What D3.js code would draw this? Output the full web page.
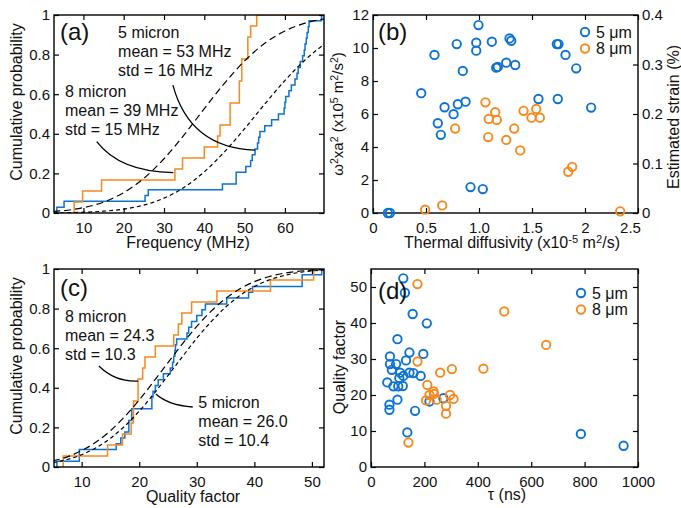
<!DOCTYPE html>
<html>
<head>
<meta charset="utf-8">
<script src="https://cdn.jsdelivr.net/npm/d3@7/dist/d3.min.js"></script>
<style>
  body { margin: 0; background: #fff; }
  svg { display: block; }
</style>
</head>
<body>
<svg id="fig" width="681" height="508"></svg>
<script>
// ---- data ----

// (a) resonance frequency samples (MHz), one step per device
const freq5 = [3.4, 5.2, 25.3, 26.1, 44.5, 47.9, 47.9, 50.3, 51.5, 51.9, 52.6, 53.2, 53.5, 53.8, 55.0, 56.7, 58.4,
  59.8, 60.0, 60.2, 61.0, 61.6, 62.5, 63.0, 63.3, 63.8, 64.4, 64.8, 65.0, 65.3, 65.5, 65.8, 66.0, 69.1];
const freq8 = [7.7, 9.8, 14.5, 32.7, 34.6, 40.0, 43.3, 43.9, 46.4, 46.4, 48.7, 48.7, 49.3, 49.3, 50.8, 50.8, 51.5, 53.0];
// gaussian fits drawn dashed
const fitFreqX = [2.5, 5, 10, 15, 20, 25, 30, 35, 40, 45, 50, 55, 60, 65, 70];
const fitFreq8 = [0.008, 0.012, 0.027, 0.055, 0.103, 0.175, 0.274, 0.395, 0.527, 0.655, 0.768, 0.857, 0.919, 0.959, 0.981];
const fitFreq5 = [0.001, 0.001, 0.004, 0.009, 0.020, 0.040, 0.075, 0.130, 0.208, 0.309, 0.426, 0.550, 0.669, 0.773, 0.856];

// (c) quality factor samples
const q5 = [5.7, 9.6, 9.6, 16.0, 16.8, 17.5, 18.2, 18.2, 18.7, 18.7, 22.2, 22.2, 22.4, 22.8, 23.3, 24.2, 25.4,
  25.8, 26.0, 26.2, 26.3, 26.5, 28.3, 28.6, 29.1, 30.0, 30.9, 31.5, 35.2, 39.0, 39.7, 48.3, 48.3, 51.7];
const q8 = [6.8, 14.5, 17.1, 18.6, 19.0, 19.0, 19.8, 19.8, 20.6, 21.0, 22.8, 26.0, 26.8, 27.4, 29.1, 33.5, 42.8, 50.3];
const fitQX = [5, 7.5, 10, 12.5, 15, 17.5, 20, 22.5, 25, 27.5, 30, 32.5, 35, 37.5, 40, 42.5, 45, 47.5, 50, 52.5];
const fitQ8 = [0.031, 0.051, 0.083, 0.126, 0.183, 0.255, 0.338, 0.431, 0.527, 0.622, 0.710, 0.787, 0.851, 0.900, 0.936, 0.961, 0.978, 0.988, 0.994, 0.997];
const fitQ5 = [0.022, 0.038, 0.062, 0.097, 0.145, 0.207, 0.282, 0.368, 0.462, 0.557, 0.650, 0.734, 0.807, 0.866, 0.911, 0.944, 0.966, 0.981, 0.990, 0.995];

// (b) thermal diffusivity (x1e-5 m2/s) vs w^2 a^2 (x1e5 m2/s2)
const diff5 = [0.14, 0.16, 0.455, 0.58, 0.79, 0.847, 0.611, 0.64, 0.675, 0.76, 0.80, 0.873, 0.92, 1.036, 0.974, 0.974,
  0.995, 1.121, 1.162, 1.177, 1.257, 1.288, 1.304, 1.342, 1.561, 1.734, 1.75, 1.743, 1.816, 1.917, 2.058];
const w5 = [0, 0, 7.26, 9.58, 10.24, 8.61, 5.44, 4.74, 6.41, 5.99, 6.59, 6.75, 1.57, 1.45, 10.32, 9.84,
  11.39, 10.38, 8.81, 8.85, 9.11, 10.58, 10.44, 8.97, 6.91, 10.24, 10.24, 6.91, 9.58, 8.77, 6.39];
const diff8 = [0.492, 0.653, 0.775, 1.061, 1.092, 1.153, 1.168, 1.087, 1.257, 1.332, 1.389, 1.42, 1.495, 1.54, 1.574, 1.842, 1.879, 2.332];
const w8 = [0.2, 0.46, 5.12, 6.71, 5.70, 6.11, 5.64, 4.60, 4.43, 5.12, 3.79, 6.19, 5.78, 6.31, 5.78, 2.50, 2.80, 0.1];

// (d) tau (ns) vs quality factor
const tau5 = [121, 127, 156, 209, 99, 71, 71, 144, 196, 94, 131, 78, 61, 109, 121, 144, 159, 186, 84, 102,
  119, 106, 69, 69, 99, 165, 136, 219, 271, 786, 946];
const qf5 = [52.4, 48.4, 42.5, 39.9, 35.5, 30.7, 28.6, 31.8, 31.4, 28.6, 29.6, 27.0, 23.5, 26.2, 25.3, 26.2, 26.1, 25.3, 22.4, 22.4,
  22.5, 24.7, 17.3, 15.9, 18.7, 15.6, 9.6, 18.2, 19.1, 9.2, 5.9];
const tau8 = [174, 174, 259, 303, 421, 211, 219, 206, 234, 236, 246, 296, 309, 281, 281, 140, 499, 656];
const qf8 = [50.8, 29.3, 26.2, 27.2, 27.3, 22.8, 20.0, 18.5, 21.0, 20.3, 18.7, 20.0, 18.9, 17.0, 14.8, 6.8, 43.2, 33.9];

// tick values and labels
const probTicks = [0, 0.2, 0.4, 0.6, 0.8, 1];
const probLabels = ["0", "0.2", "0.4", "0.6", "0.8", "1"];
const freqTicks = [10, 20, 30, 40, 50, 60];
const diffTicks = [0, 0.5, 1, 1.5, 2, 2.5];
const diffLabels = ["0", "0.5", "1.0", "1.5", "2", "2.5"];
const wTicks = [0, 2, 4, 6, 8, 10, 12];
const strainTicks = [0, 0.1, 0.2, 0.3, 0.4];
const strainLabels = ["0", "0.1", "0.2", "0.3", "0.4"];
const qTicks = [10, 20, 30, 40, 50];
const tauTicks = [0, 200, 400, 600, 800, 1000];
const qfTicks = [0, 10, 20, 30, 40, 50];

// ---- drawing ----
const svg = d3.select("#fig");
const FONT = '"Liberation Sans", Arial, Helvetica, sans-serif';
const BLUE = "#0d72d2";
const ORANGE = "#f6891f";
const TICK = 5;

svg.attr("font-family", FONT);

// scales for the four panels
const xA = d3.scaleLinear().domain([2.7, 69.7]).range([54, 324]);
const yA = d3.scaleLinear().domain([0, 1]).range([213, 15]);
const xB = d3.scaleLinear().domain([0, 2.5]).range([373, 638]);
const yB = d3.scaleLinear().domain([0, 12]).range([213, 15]);
const yB2 = d3.scaleLinear().domain([0, 0.4]).range([213, 15]);
const xC = d3.scaleLinear().domain([5.2, 52.1]).range([54, 324]);
const yC = d3.scaleLinear().domain([0, 1]).range([467, 269]);
const xD = d3.scaleLinear().domain([0, 1000]).range([371, 638]);
const yD = d3.scaleLinear().domain([0, 55]).range([467, 269]);

function styleAxis(g) {
  g.select(".domain").remove();
  g.selectAll("line").attr("stroke", "#000").attr("stroke-width", 1.2);
  g.selectAll("text").attr("font-size", 15).attr("font-family", FONT).attr("fill", "#111");
}

// box with inward ticks on all four sides
function frame(x, y, xt, xl, yt, yl, yRight, rt, rl) {
  const [l, r] = x.range(), [b, t] = y.range();
  const bottom = svg.append("g").attr("transform", `translate(0,${b})`)
    .call(d3.axisBottom(x).tickValues(xt).tickFormat((d, i) => xl[i]).tickSize(-TICK).tickPadding(9))
    .call(styleAxis);
  svg.append("g").attr("transform", `translate(0,${t})`)
    .call(d3.axisTop(x).tickValues(xt).tickFormat("").tickSize(-TICK))
    .call(styleAxis);
  svg.append("g").attr("transform", `translate(${l},0)`)
    .call(d3.axisLeft(y).tickValues(yt).tickFormat((d, i) => yl[i]).tickSize(-TICK).tickPadding(4))
    .call(styleAxis);
  if (yRight) {
    svg.append("g").attr("transform", `translate(${r},0)`)
      .call(d3.axisRight(yRight).tickValues(rt).tickFormat((d, i) => rl[i]).tickSize(-TICK).tickPadding(4))
      .call(styleAxis);
  } else {
    svg.append("g").attr("transform", `translate(${r},0)`)
      .call(d3.axisRight(y).tickValues(yt).tickFormat("").tickSize(-TICK))
      .call(styleAxis);
  }
  svg.append("rect").attr("x", l).attr("y", t).attr("width", r - l).attr("height", b - t)
    .attr("fill", "none").attr("stroke", "#000").attr("stroke-width", 1.4);
  return bottom;
}

function clipFor(id, x, y) {
  const [l, r] = x.range(), [b, t] = y.range();
  svg.append("clipPath").attr("id", id).append("rect")
    .attr("x", l).attr("y", t).attr("width", r - l).attr("height", b - t);
  return svg.append("g").attr("clip-path", `url(#${id})`);
}

// empirical cdf as a step line
function drawCdf(g, vals, x, y, color) {
  const s = vals.slice().sort(d3.ascending);
  const n = s.length;
  const pts = [[s[0], 0]];
  s.forEach((v, i) => pts.push([v, (i + 1) / n]));
  pts.push([x.domain()[1], 1]);
  g.append("path").datum(pts)
    .attr("d", d3.line().x(d => x(d[0])).y(d => y(d[1])).curve(d3.curveStepAfter))
    .attr("fill", "none").attr("stroke", color).attr("stroke-width", 1.5);
}

function drawFit(g, xs, ps, x, y, dash) {
  g.append("path").datum(xs.map((v, i) => [v, ps[i]]))
    .attr("d", d3.line().x(d => x(d[0])).y(d => y(d[1])).curve(d3.curveMonotoneX))
    .attr("fill", "none").attr("stroke", "#000").attr("stroke-width", 1.2).attr("stroke-dasharray", dash);
}

// curved pointer from label to the data, in data coordinates
function callout(x, y, p0, c, p1) {
  const p = d3.path();
  p.moveTo(x(p0[0]), y(p0[1]));
  p.quadraticCurveTo(x(c[0]), y(c[1]), x(p1[0]), y(p1[1]));
  svg.append("path").attr("d", p.toString())
    .attr("fill", "none").attr("stroke", "#000").attr("stroke-width", 1.3);
}

function textBlock(x, y, pos, lines) {
  const t = svg.append("text").attr("x", x(pos[0])).attr("y", y(pos[1]))
    .attr("font-size", 16).attr("fill", "#111");
  lines.forEach((s, i) => t.append("tspan").attr("x", x(pos[0])).attr("dy", i ? 19 : 0).text(s));
}

function circles(xs, ys, x, y, color) {
  svg.append("g").selectAll("circle").data(xs.map((v, i) => [v, ys[i]])).join("circle")
    .attr("cx", d => x(d[0])).attr("cy", d => y(d[1])).attr("r", 4.2)
    .attr("fill", "none").attr("stroke", color).attr("stroke-width", 1.9);
}

// text with superscripts: parts = [[text, isSup], ...]
function richText(g, parts, size) {
  let up = false;
  parts.forEach(([s, sup]) => {
    const ts = g.append("tspan").text(s);
    if (sup && !up) { ts.attr("dy", -5).attr("font-size", size * 0.7); up = true; }
    else if (sup) { ts.attr("font-size", size * 0.7); }
    else if (up) { ts.attr("dy", 5); up = false; }
  });
}

function label(x, y, rot, parts, size = 16) {
  const t = svg.append("text")
    .attr("transform", `translate(${x},${y})` + (rot ? " rotate(-90)" : ""))
    .attr("text-anchor", "middle").attr("font-size", size).attr("fill", "#111");
  if (typeof parts === "string") t.text(parts); else richText(t, parts, size);
}

function panelTag(x, y, s) {
  svg.append("text").attr("x", x).attr("y", y).attr("font-size", 24).attr("fill", "#111").text(s);
}

function legend(cx, cy, items) {
  items.forEach(([txt, color], i) => {
    svg.append("circle").attr("cx", cx).attr("cy", cy + i * 16.5).attr("r", 4.2)
      .attr("fill", "none").attr("stroke", color).attr("stroke-width", 1.9);
    svg.append("text").attr("x", cx + 11).attr("y", cy + i * 16.5 + 5.5)
      .attr("font-size", 16).attr("fill", "#111").text(txt);
  });
}

// ---- (a) frequency CDF ----
const gA = clipFor("clipA", xA, yA);
drawCdf(gA, freq5, xA, yA, BLUE);
drawCdf(gA, freq8, xA, yA, ORANGE);
drawFit(gA, fitFreqX, fitFreq8, xA, yA, "7,4");
drawFit(gA, fitFreqX, fitFreq5, xA, yA, "4,3");
frame(xA, yA, freqTicks, freqTicks.map(String), probTicks, probLabels);
textBlock(xA, yA, [18.6, 0.885], ["5 micron", "mean = 53 MHz", "std = 16 MHz"]);
textBlock(xA, yA, [5.43, 0.584], ["8 micron", "mean = 39 MHz", "std = 15 MHz"]);
callout(xA, yA, [32.2, 0.646], [36.45, 0.328], [52.6, 0.318]);
callout(xA, yA, [13.3, 0.36], [19.1, 0.207], [32.3, 0.204]);
panelTag(60, 40, "(a)");
label(188, 248, false, "Frequency (MHz)");
label(22, 102, true, "Cumulative probability");

// ---- (b) scatter vs thermal diffusivity ----
const axB = frame(xB, yB, diffTicks, diffLabels, wTicks, wTicks.map(String), yB2, strainTicks, strainLabels);
// last x label sits inside the box in the original, clear of the right axis "0"
axB.selectAll(".tick text").filter((d, i, n) => i === n.length - 1).attr("dx", -8);
circles(diff5, w5, xB, yB, BLUE);
circles(diff8, w8, xB, yB, ORANGE);
legend(585, 32, [["5 \u03bcm", BLUE], ["8 \u03bcm", ORANGE]]);
panelTag(378, 40, "(b)");
label(512, 248, false, [["Thermal diffusivity (x10", false], ["-5", true], [" m", false], ["2", true], ["/s)", false]]);
label(343, 114, true, [["\u03c9", false], ["2", true], ["xa", false], ["2", true], [" (x10", false], ["5", true],
  [" m", false], ["2", true], ["/s", false], ["2", true], [")", false]], 15);
label(679, 117, true, "Estimated strain (%)");

// ---- (c) quality factor CDF ----
const gC = clipFor("clipC", xC, yC);
drawCdf(gC, q5, xC, yC, BLUE);
drawCdf(gC, q8, xC, yC, ORANGE);
drawFit(gC, fitQX, fitQ8, xC, yC, "7,4");
drawFit(gC, fitQX, fitQ5, xC, yC, "4,3");
frame(xC, yC, qTicks, qTicks.map(String), probTicks, probLabels);
textBlock(xC, yC, [7.11, 0.731], ["8 micron", "mean = 24.3", "std = 10.3"]);
textBlock(xC, yC, [30.27, 0.2995], ["5 micron", "mean = 26.0", "std = 10.4"]);
callout(xC, yC, [13.0, 0.51], [15.8, 0.429], [19.8, 0.434]);
callout(xC, yC, [22.9, 0.369], [25.0, 0.313], [29.3, 0.303]);
panelTag(60, 296, "(c)");
label(193, 502, false, "Quality factor");
label(22, 356, true, "Cumulative probability");

// ---- (d) quality factor vs tau ----
frame(xD, yD, tauTicks, tauTicks.map(String), qfTicks, qfTicks.map(String));
circles(tau5, qf5, xD, yD, BLUE);
circles(tau8, qf8, xD, yD, ORANGE);
legend(581, 293, [["5 \u03bcm", BLUE], ["8 \u03bcm", ORANGE]]);
panelTag(378, 299, "(d)");
label(507, 500, false, "\u03c4 (ns)");
label(345, 367, true, "Quality factor");
</script>
</body>
</html>
